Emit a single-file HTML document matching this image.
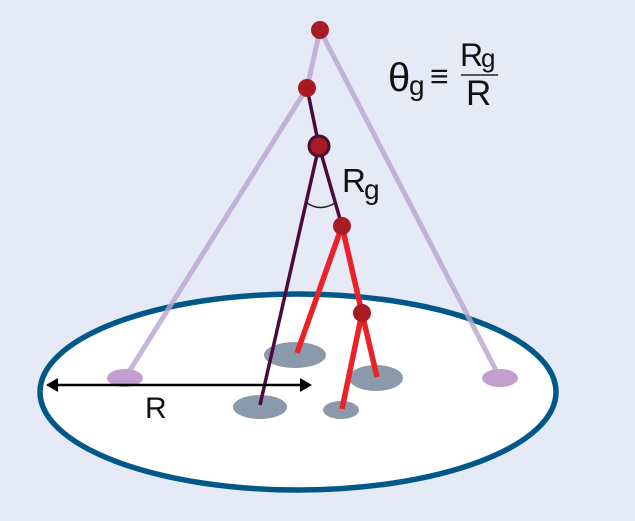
<!DOCTYPE html>
<html><head><meta charset="utf-8"><style>
html,body{margin:0;padding:0;background:#e6e9f6;}
svg{display:block;}
text{font-family:"Liberation Sans",sans-serif;fill:#111;}
</style></head><body>
<svg width="635" height="521" viewBox="0 0 635 521">
<rect width="635" height="521" fill="#e6e9f6"/>
<ellipse cx="298" cy="392" rx="258" ry="98" fill="#fff" stroke="#005888" stroke-width="5.5"/>
<ellipse cx="125" cy="378" rx="18" ry="9" fill="#c39fd0"/>
<ellipse cx="500" cy="378" rx="18" ry="9" fill="#c39fd0"/>
<ellipse cx="295" cy="355" rx="31" ry="13" fill="#8a9aab"/>
<ellipse cx="260" cy="407" rx="27" ry="12" fill="#8a9aab"/>
<ellipse cx="376" cy="378" rx="27" ry="13" fill="#8a9aab"/>
<ellipse cx="341" cy="410" rx="18" ry="9" fill="#8a9aab"/>
<g stroke="#b7a5d0" stroke-width="5" stroke-opacity="0.8" fill="none">
<polyline points="320,30 307,88 125,378"/>
<line x1="320" y1="30" x2="500" y2="378"/>
</g>
<g stroke="#4a0b3a" stroke-width="3.5" fill="none">
<polyline points="307,88 319,146 260,405"/>
<line x1="319" y1="146" x2="342" y2="226"/>
</g>
<path d="M307,203 Q320,212 335,203" stroke="#222" stroke-width="1.5" fill="none"/>
<g stroke="#ea2127" stroke-width="5.5" fill="none">
<line x1="342" y1="226" x2="297" y2="353"/>
<polyline points="342,226 362,313 377,377"/>
<line x1="362" y1="313" x2="342" y2="409"/>
</g>
<g fill="#a81b22">
<circle cx="320" cy="30" r="9"/>
<circle cx="307" cy="88" r="9"/>
<circle cx="319" cy="146" r="10" stroke="#4a0b3a" stroke-width="3"/>
<circle cx="342" cy="226" r="9"/>
<circle cx="362" cy="313" r="9"/>
</g>
<line x1="56" y1="385" x2="302" y2="385" stroke="#000" stroke-width="2.5"/>
<polygon points="46,385 58,378 58,392" fill="#000"/>
<polygon points="312,385 300,378 300,392" fill="#000"/>
<text x="145" y="418" font-size="30">R</text>
<text x="342" y="192" font-size="33">R</text>
<text x="364" y="199" font-size="28" font-family="Liberation Serif">g</text>
<text x="388" y="91" font-size="40" font-family="Liberation Serif">θ</text>
<text x="409" y="95" font-size="28" font-family="Liberation Serif">g</text>
<text x="430" y="87" font-size="32" font-family="DejaVu Sans">≡</text>
<line x1="461" y1="75" x2="498" y2="75" stroke="#222" stroke-width="1.5"/>
<text x="460" y="66" font-size="32">R</text>
<text x="481" y="67" font-size="26" font-family="Liberation Serif">g</text>
<text x="466" y="105" font-size="35">R</text>
</svg>
</body></html>
